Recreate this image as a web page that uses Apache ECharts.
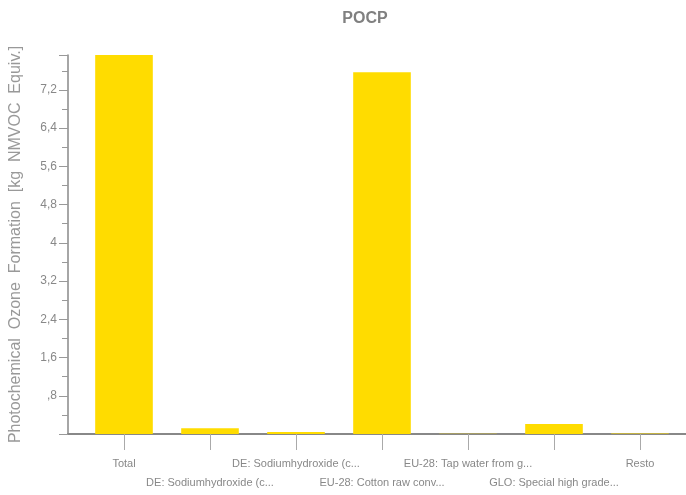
<!DOCTYPE html>
<html>
<head>
<meta charset="utf-8">
<script src="https://cdn.jsdelivr.net/npm/echarts@6/dist/echarts.min.js"></script>
<style>
html,body{margin:0;padding:0;background:#fff;}
#chart{width:686px;height:495px;}
</style>
</head>
<body>
<div id="chart"></div>
<script>
var categories = [
  "Total",
  "DE: Sodiumhydroxide (c...",
  "DE: Sodiumhydroxide (c...",
  "EU-28: Cotton raw conv...",
  "EU-28: Tap water from g...",
  "GLO: Special high grade...",
  "Resto"
];
var values = [7.93, 0.12, 0.04, 7.57, 0.005, 0.21, 0.01];
var yAxisName = "Photochemical  Ozone  Formation  [kg  NMVOC  Equiv.]";
var titleText = "POCP";
var yMax = 7.93;

var chart = echarts.init(document.getElementById('chart'), null, {renderer: 'canvas'});
function fmt(v) {
  var r = Math.round(v * 10) / 10;
  if (Math.abs(r - v) > 1e-6) return '';
  if (r === 0) return '';
  var s = String(r).replace('.', ',');
  if (s.indexOf('0,') === 0) s = s.slice(1);
  return s;
}
chart.setOption({
  animation: false,
  title: {
    text: titleText,
    left: 360, top: 6, textAlign: 'center',
    textStyle: {fontFamily: 'Liberation Sans', fontSize: 16, fontWeight: 'bold', color: '#808080'}
  },
  grid: [
    {left: 68, right: 0, top: 55, bottom: 61, containLabel: false},
    {left: 81, right: 3, top: 55, bottom: 61, containLabel: false}
  ],
  xAxis: [{
    gridIndex: 0,
    type: 'category',
    data: [''],
    axisLine: {lineStyle: {color: '#888', width: 2}},
    axisTick: {show: false},
    axisLabel: {show: false}
  }, {
    gridIndex: 1,
    type: 'category',
    data: categories,
    axisLine: {lineStyle: {color: '#888', width: 2}},
    axisTick: {show: true, alignWithLabel: true, length: 16, lineStyle: {color: '#aaa', width: 1}},
    axisLabel: {
      interval: 0,
      margin: 20,
      color: '#888',
      fontFamily: 'Liberation Sans',
      fontSize: 11,
      lineHeight: 19,
      formatter: function (v, i) { return i % 2 === 1 ? '\n' + v : v; }
    }
  }],
  yAxis: [{
    gridIndex: 0,
    type: 'value',
    min: 0,
    max: yMax,
    interval: 0.8,
    name: yAxisName,
    nameLocation: 'middle',
    nameGap: 44,
    nameTextStyle: {fontFamily: 'Liberation Sans', fontSize: 16, color: '#999'},
    axisLine: {show: true, lineStyle: {color: '#888', width: 1.5}},
    axisTick: {show: true, length: 9, lineStyle: {color: '#999'}},
    minorTick: {show: true, splitNumber: 2, length: 6, lineStyle: {color: '#999'}},
    splitLine: {show: false},
    axisLabel: {
      showMaxLabel: false,
      margin: 11,
      color: '#888',
      fontFamily: 'Liberation Sans',
      fontSize: 12,
      formatter: fmt
    }
  }, {
    gridIndex: 1,
    type: 'value',
    min: 0,
    max: yMax,
    show: false,
    splitLine: {show: false}
  }],
  series: [{
    type: 'bar',
    xAxisIndex: 1,
    yAxisIndex: 1,
    data: values,
    barWidth: '67%',
    itemStyle: {color: '#FFDC00'}
  }]
});
</script>
</body>
</html>
